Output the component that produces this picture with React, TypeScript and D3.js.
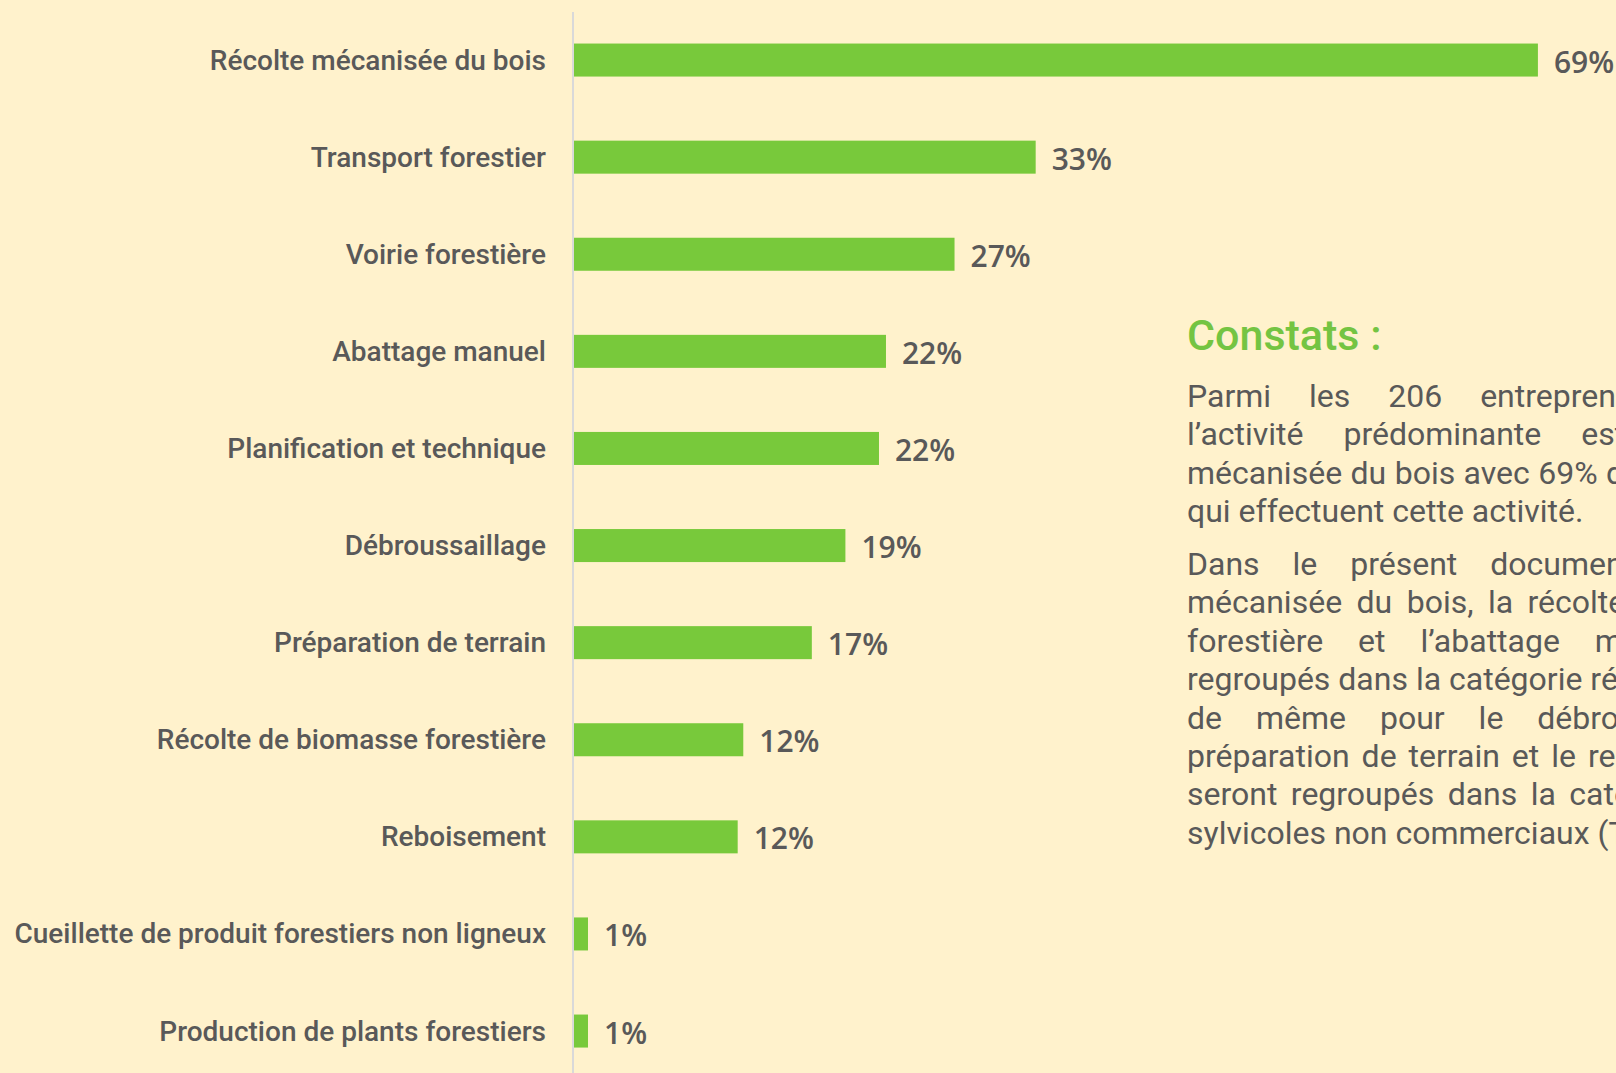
import React, { useEffect } from "react";
import * as d3 from "d3";

// ---- data ----
const categories = [
  "Récolte mécanisée du bois",
  "Transport forestier",
  "Voirie forestière",
  "Abattage manuel",
  "Planification et technique",
  "Débroussaillage",
  "Préparation de terrain",
  "Récolte de biomasse forestière",
  "Reboisement",
  "Cueillette de produit forestiers non ligneux",
  "Production de plants forestiers",
];
const values = [68.9, 33.0, 27.2, 22.3, 21.8, 19.4, 17.0, 12.1, 11.7, 1.0, 1.0];
const valueLabels = ["69%", "33%", "27%", "22%", "22%", "19%", "17%", "12%", "12%", "1%", "1%"];

const noteTitle = "Constats :";
const paragraph1 = [
  "Parmi les 206 entrepreneurs interrogés,",
  "l\u2019activité prédominante est la récolte",
  "mécanisée du bois avec 69% des entreprises",
  "qui effectuent cette activité.",
];
const paragraph2 = [
  "Dans le présent document, la récolte",
  "mécanisée du bois, la récolte de biomasse",
  "forestière et l\u2019abattage manuel seront",
  "regroupés dans la catégorie récolte (R),",
  "de même pour le débroussaillage, la",
  "préparation de terrain et le reboisement qui",
  "seront regroupés dans la catégorie travaux",
  "sylvicoles non commerciaux (TSNC).",
];

// ---- layout / style ----
const W = 1616;
const H = 1073;
const BG = "#FFF2CC";
const GREEN = "#78C93B";
const TITLE_GREEN = "#74C442";
const GRAY = "#595959";
const AXIS = "#D9D9D9";
// extra word spacing per line (justified text of the original)
const p1Spacing = [30, 32, 0.5, 0];
const p2Spacing = [25, 6.5, 27, 0, 26, 4, 5.5, 0];

export default function App() {
  useEffect(() => {
    document.body.style.margin = "0";
    document.body.style.background = BG;
  }, []);

  const y = d3
    .scaleBand<string>()
    .domain(categories)
    .range([11.5, 11.5 + 97.1 * categories.length])
    .paddingInner(0.66)
    .paddingOuter(0.33);
  const x = d3.scaleLinear().domain([0, 100]).range([574, 574 + 1399]);

  const textX = 1187;
  const p1y0 = 406.7;
  const lh = 38.4;
  const p2y0 = 575;

  return (
    <svg width={W} height={H} style={{ display: "block", background: BG }}>
      <rect x={0} y={0} width={W} height={H} fill={BG} />
      <line x1={573} x2={573} y1={12} y2={H} stroke={AXIS} strokeWidth={2} />
      {categories.map((c, i) => {
        const yy = y(c)!;
        const bw = y.bandwidth();
        return (
          <g key={c}>
            <rect x={x(0)} y={yy} width={x(values[i]) - x(0)} height={bw} fill={GREEN} />
            <text
              x={546}
              y={yy + bw / 2}
              textAnchor="end"
              dominantBaseline="central"
              fontFamily="Roboto"
              fontWeight={500}
              fontSize={28}
              fill={GRAY}
            >
              {c}
            </text>
            <text
              x={x(values[i]) + 16}
              y={yy + bw / 2 + 1}
              dominantBaseline="central"
              fontFamily="'Open Sans'"
              fontWeight={600}
              fontSize={30}
              fill={GRAY}
            >
              {valueLabels[i]}
            </text>
          </g>
        );
      })}
      <text x={textX} y={350} fontFamily="Roboto" fontWeight={500} fontSize={43} fill={TITLE_GREEN}>
        {noteTitle}
      </text>
      {paragraph1.map((l, i) => (
        <text
          key={"a" + i}
          x={textX}
          y={p1y0 + i * lh}
          fontFamily="Roboto"
          fontSize={32}
          fill={GRAY}
          style={{ wordSpacing: p1Spacing[i] + "px" }}
        >
          {l}
        </text>
      ))}
      {paragraph2.map((l, i) => (
        <text
          key={"b" + i}
          x={textX}
          y={p2y0 + i * lh}
          fontFamily="Roboto"
          fontSize={32}
          fill={GRAY}
          style={{ wordSpacing: p2Spacing[i] + "px" }}
        >
          {l}
        </text>
      ))}
    </svg>
  );
}
